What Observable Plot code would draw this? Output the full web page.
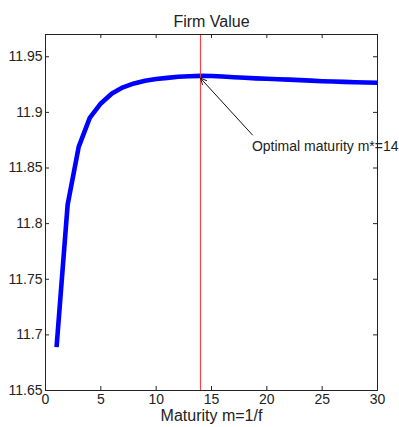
<!DOCTYPE html>
<html>
<head>
<meta charset="utf-8">
<script src="https://cdn.jsdelivr.net/npm/d3@7"></script>
<script src="https://cdn.jsdelivr.net/npm/@observablehq/plot@0.6"></script>
<style>
  html, body { margin: 0; padding: 0; background: #fff; }
  #chart svg { display: block; }
</style>
</head>
<body>
<div id="chart"></div>
<script>
const maturity = [1,2,3,4,5,6,7,8,9,10,11,12,13,14,15,16,17,18,19,20,21,22,23,24,25,26,27,28,29,30];
const firmValue = [11.689,11.817,11.869,11.895,11.908,11.917,11.9225,11.926,11.9285,11.930,11.931,11.932,11.9325,11.9328,11.9327,11.9322,11.9316,11.9311,11.9306,11.9302,11.9298,11.9294,11.929,11.9285,11.928,11.9277,11.9274,11.9271,11.9268,11.9266];
const xTicks = [0,5,10,15,20,25,30];
const yTicks = [11.65,11.7,11.75,11.8,11.85,11.9,11.95];
const optimalM = 14;
const arrowTipV = 11.9308;
const titleText = "Firm Value";
const xLabel = "Maturity m=1/f";
const annotation = "Optimal maturity m*=14";
const annotPos = {x: 18.7, y: 11.8797, tx: 18.65, ty: 11.869};

const data = maturity.map((m, i) => ({m, v: firmValue[i]}));
const fontFamily = "'Liberation Sans', Arial, sans-serif";

const chart = Plot.plot({
  width: 399,
  height: 427,
  marginLeft: 45,
  marginRight: 22,
  marginTop: 34,
  marginBottom: 37,
  style: {fontFamily, fontSize: "14px", color: "#222", background: "#fff"},
  x: {domain: [0, 30]},
  y: {domain: [11.65, 11.97]},
  marks: [
    Plot.axisX(xTicks, {tickSize: 0, tickPadding: 4, label: null, fontSize: 14}),
    Plot.axisY(yTicks, {tickSize: 0, tickPadding: 3, label: null, fontSize: 14, tickFormat: d => String(+d.toFixed(2))}),
    Plot.tickX(xTicks, {x: d => d, insetTop: 352, stroke: "#222"}),
    Plot.tickX(xTicks, {x: d => d, insetBottom: 352, stroke: "#222"}),
    Plot.tickY(yTicks, {y: d => d, insetRight: 328, stroke: "#222"}),
    Plot.tickY(yTicks, {y: d => d, insetLeft: 328, stroke: "#222"}),
    Plot.line(data, {x: "m", y: "v", stroke: "#0000ff", strokeWidth: 4.6, strokeLinecap: "butt", curve: "linear"}),
    Plot.ruleX([optimalM], {stroke: "#ff3030", strokeWidth: 1}),
    Plot.arrow([{x1: annotPos.x, y1: annotPos.y, x2: optimalM, y2: arrowTipV}], {x1: "x1", y1: "y1", x2: "x2", y2: "y2", stroke: "#111", strokeWidth: 1, headLength: 10, headAngle: 50}),
    Plot.text([annotation], {x: annotPos.tx, y: annotPos.ty, text: d => d, textAnchor: "start", fontSize: 14, fill: "#222"}),
    Plot.text([titleText], {frameAnchor: "top", dy: -19, text: d => d, fontSize: 16, fill: "#222"}),
    Plot.text([xLabel], {frameAnchor: "bottom", dy: 30, text: d => d, fontSize: 16, fill: "#222"}),
    Plot.frame({stroke: "#222"})
  ]
});
document.getElementById("chart").appendChild(chart);
</script>
</body>
</html>
